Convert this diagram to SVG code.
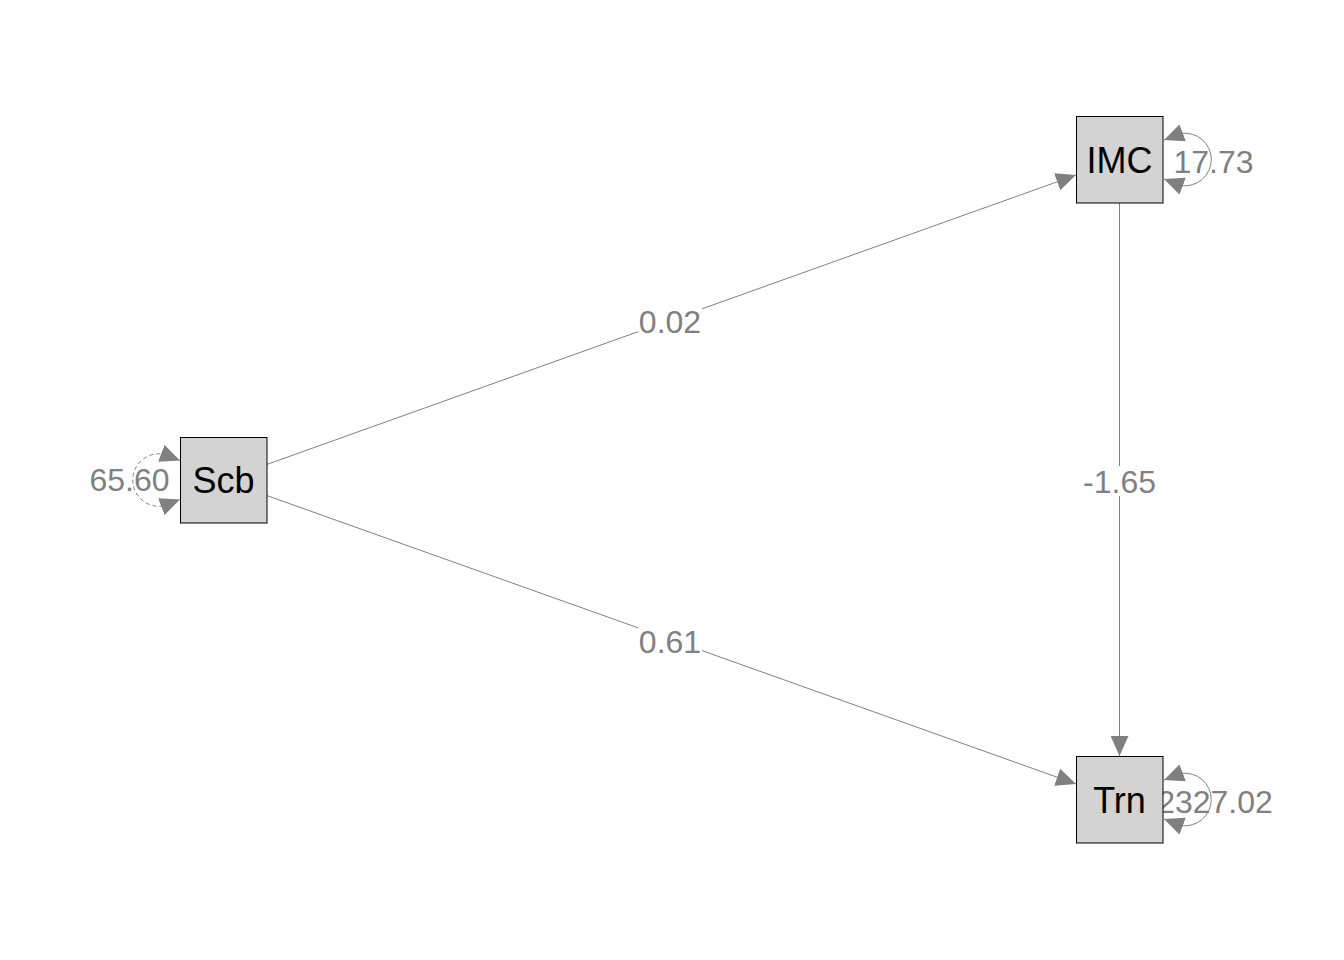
<svg xmlns="http://www.w3.org/2000/svg" width="1344" height="960" viewBox="0 0 1344 960">
<style>
.edge{fill:none;stroke:#808080;stroke-width:1}
.loop{fill:none;stroke:#808080;stroke-width:1}
.dash{stroke-dasharray:4,3}
.lbg{fill:#ffffff;stroke:none}
.lbl{font-family:"Liberation Sans",Arial,sans-serif;font-size:32px;fill:#808080;text-anchor:middle}
.box{fill:#d3d3d3;stroke:#000000;stroke-width:1}
.ntxt{font-family:"Liberation Sans",Arial,sans-serif;font-size:36px;fill:#000000;text-anchor:middle}
</style>
<defs>
<marker id="arr" viewBox="0 0 20 18" refX="20" refY="9" markerWidth="20" markerHeight="18" markerUnits="userSpaceOnUse" orient="auto-start-reverse">
<path d="M0,0 L20,9 L0,18 Z" fill="#808080"/>
</marker>
</defs>
<rect x="0" y="0" width="1344" height="960" fill="#ffffff"/>
<g id="connectors">
<line class="edge" x1="267" y1="464.4" x2="1076" y2="175.1" marker-end="url(#arr)"/>
<line class="edge" x1="267" y1="495.6" x2="1076" y2="783.9" marker-end="url(#arr)"/>
<line class="edge" x1="1119.5" y1="203" x2="1119.5" y2="756" marker-end="url(#arr)"/>
<path class="loop" d="M1164,140 L1181,133.5 A26.3,26.3 0 1 1 1181,185.5 L1164,179" marker-start="url(#arr)" marker-end="url(#arr)"/>
<path class="loop" d="M1164,780 L1181,773.5 A26.3,26.3 0 1 1 1181,825.5 L1164,819" marker-start="url(#arr)" marker-end="url(#arr)"/>
<path class="loop dash" d="M180,460.5 L163,454 A26.3,26.3 0 1 0 163,506 L180,499.5" marker-start="url(#arr)" marker-end="url(#arr)"/>
</g>
<g id="edge-labels">
<rect class="lbg" x="638" y="306" width="64" height="31"/>
<text class="lbl" x="670" y="333">0.02</text>
<rect class="lbg" x="638" y="626" width="64" height="31"/>
<text class="lbl" x="670" y="653">0.61</text>
<rect class="lbg" x="1083" y="466" width="73" height="30"/>
<text class="lbl" x="1119.5" y="493">-1.65</text>
<text class="lbl" x="1213.5" y="173">17.73</text>
<text class="lbl" x="1215" y="813">2327.02</text>
<text class="lbl" x="129.5" y="491">65.60</text>
</g>
<g id="node-Scb">
<rect class="box" x="180.5" y="437.5" width="86.5" height="85.5"/>
<text class="ntxt" x="223.5" y="493">Scb</text>
</g>
<g id="node-IMC">
<rect class="box" x="1076.5" y="116.5" width="86.5" height="86.5"/>
<text class="ntxt" x="1119.5" y="173">IMC</text>
</g>
<g id="node-Trn">
<rect class="box" x="1076.5" y="756.5" width="86.5" height="86.5"/>
<text class="ntxt" x="1119.5" y="813">Trn</text>
</g>
</svg>
